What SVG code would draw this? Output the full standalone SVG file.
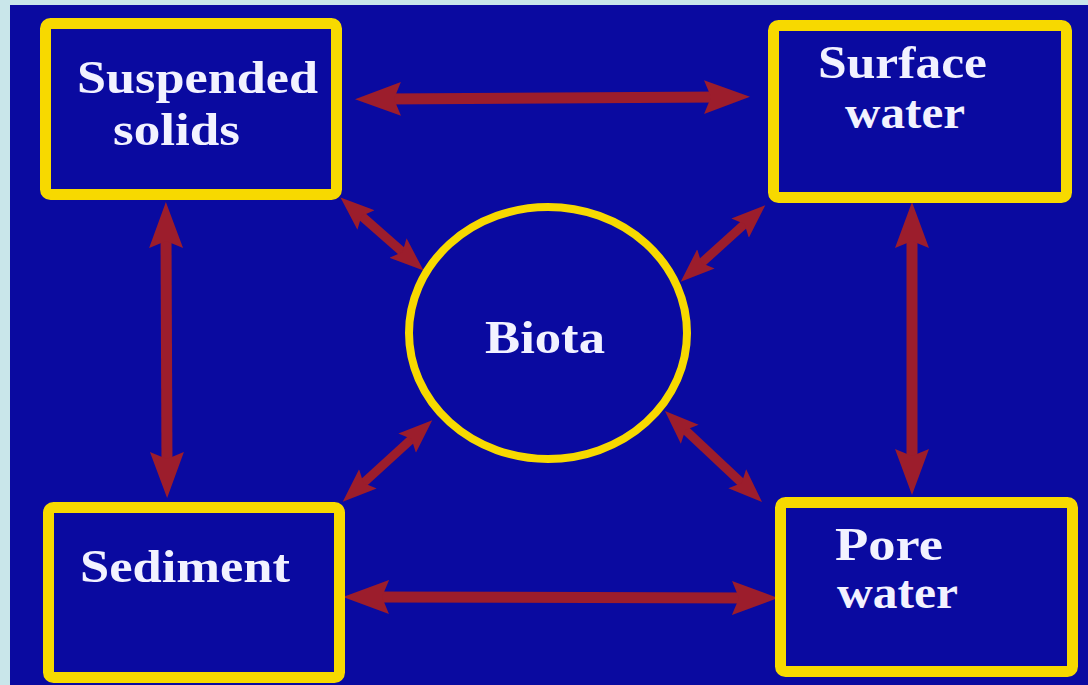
<svg xmlns="http://www.w3.org/2000/svg" width="1088" height="685" viewBox="0 0 1088 685">
<style>
.box{fill:#0a0aa0;stroke:#f7d900;stroke-width:11}
.lbl{font-family:"Liberation Serif","Times New Roman",serif;font-weight:bold;font-size:46px;fill:#f2f2ff}
.big{stroke:#9c1d2c;stroke-width:11;fill:none}
.sm{stroke:#9c1d2c;stroke-width:9;fill:none}
</style>
<defs>
<marker id="ah" markerUnits="userSpaceOnUse" markerWidth="50" markerHeight="40" viewBox="0 0 50 40" refX="16" refY="20" orient="auto-start-reverse">
<path d="M0,3 L46,20 L0,37 L7,20 Z" fill="#9c1d2c"/>
</marker>
<marker id="ahs" markerUnits="userSpaceOnUse" markerWidth="38" markerHeight="32" viewBox="0 0 38 32" refX="12" refY="16" orient="auto-start-reverse">
<path d="M0,3 L34,16 L0,29 L6,16 Z" fill="#9c1d2c"/>
</marker>
</defs>
<rect x="0" y="0" width="1088" height="685" fill="#c9e6ea"/>
<rect x="10" y="5" width="1078" height="680" fill="#0a0aa0"/>
<g id="connectors">
<line class="big" x1="385" y1="99" x2="720" y2="97" marker-start="url(#ah)" marker-end="url(#ah)"/>
<line class="big" x1="373" y1="597" x2="748" y2="598" marker-start="url(#ah)" marker-end="url(#ah)"/>
<line class="big" x1="166" y1="232" x2="167" y2="468" marker-start="url(#ah)" marker-end="url(#ah)"/>
<line class="big" x1="912" y1="232" x2="912" y2="465" marker-start="url(#ah)" marker-end="url(#ah)"/>
<line class="sm" x1="357" y1="212" x2="407" y2="256" marker-start="url(#ahs)" marker-end="url(#ahs)"/>
<line class="sm" x1="749" y1="220" x2="697" y2="267" marker-start="url(#ahs)" marker-end="url(#ahs)"/>
<line class="sm" x1="416" y1="435" x2="359" y2="487" marker-start="url(#ahs)" marker-end="url(#ahs)"/>
<line class="sm" x1="681" y1="426" x2="746" y2="487" marker-start="url(#ahs)" marker-end="url(#ahs)"/>
</g>
<g id="suspended-solids">
<rect class="box" x="45.5" y="23.5" width="291" height="171" rx="5"/>
<text class="lbl" x="77" y="93" textLength="241" lengthAdjust="spacingAndGlyphs">Suspended</text>
<text class="lbl" x="113" y="145" textLength="127" lengthAdjust="spacingAndGlyphs">solids</text>
</g>
<g id="surface-water">
<rect class="box" x="773.5" y="25.5" width="293" height="172" rx="5"/>
<text class="lbl" x="818" y="78" textLength="169" lengthAdjust="spacingAndGlyphs">Surface</text>
<text class="lbl" x="845" y="128" textLength="120" lengthAdjust="spacingAndGlyphs">water</text>
</g>
<g id="sediment">
<rect class="box" x="48.5" y="507.5" width="291" height="170" rx="5"/>
<text class="lbl" x="80" y="582" textLength="210" lengthAdjust="spacingAndGlyphs">Sediment</text>
</g>
<g id="pore-water">
<rect class="box" x="780.5" y="502.5" width="292" height="169" rx="5"/>
<text class="lbl" x="835" y="560" textLength="108" lengthAdjust="spacingAndGlyphs">Pore</text>
<text class="lbl" x="837" y="608" textLength="121" lengthAdjust="spacingAndGlyphs">water</text>
</g>
<g id="biota">
<ellipse cx="548" cy="333" rx="139" ry="126" fill="#0a0aa0" stroke="#f7d900" stroke-width="8"/>
<text class="lbl" x="485" y="353" textLength="120" lengthAdjust="spacingAndGlyphs">Biota</text>
</g>
</svg>
